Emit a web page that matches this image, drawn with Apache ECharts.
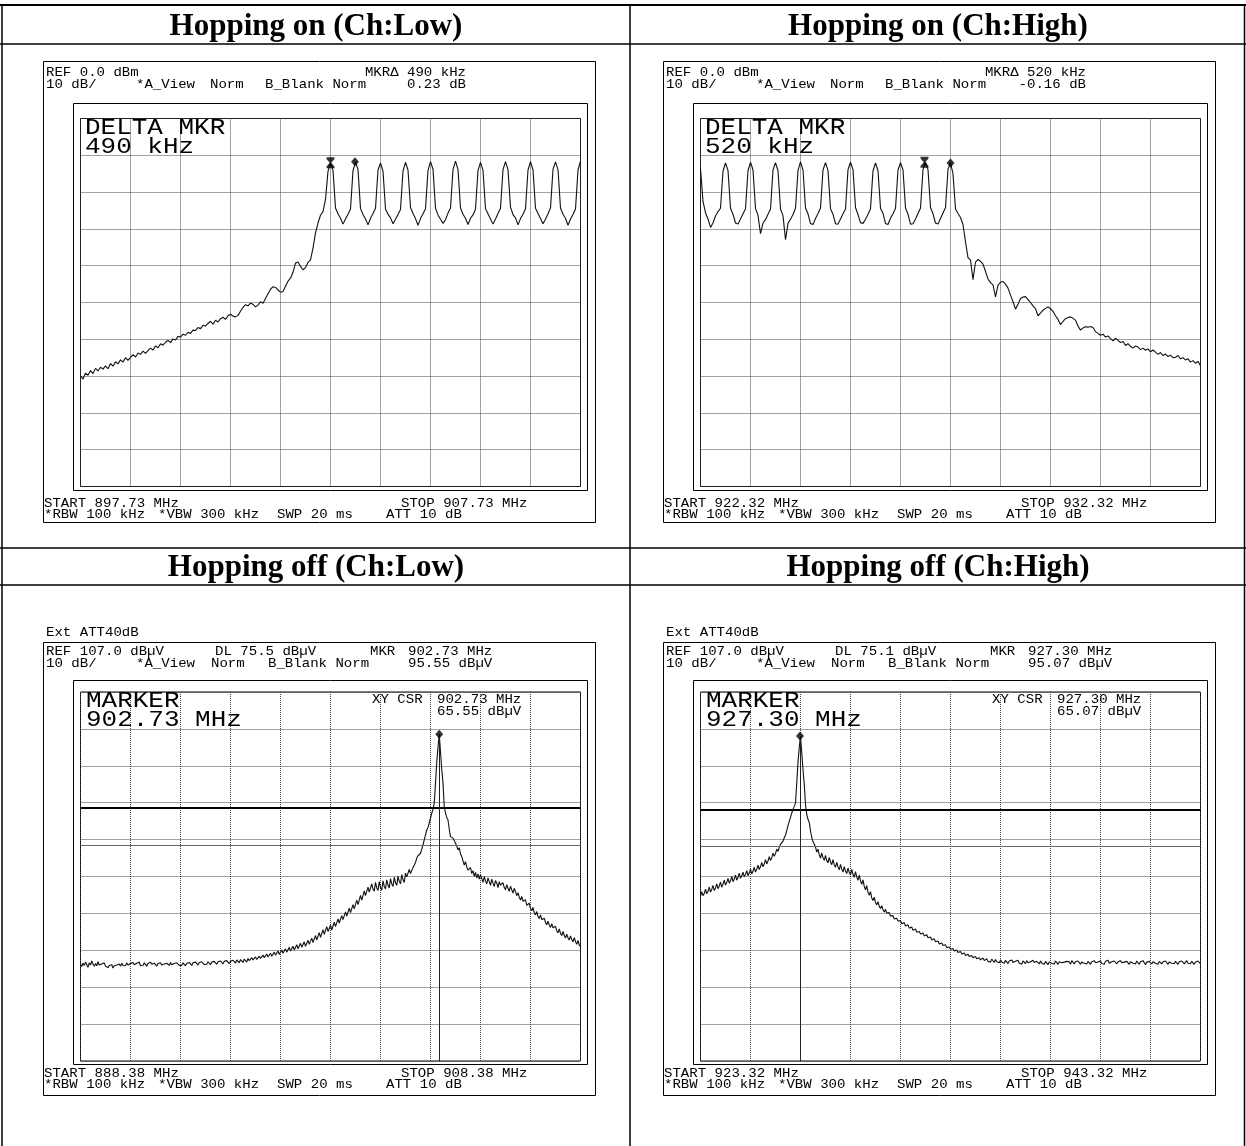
<!DOCTYPE html>
<html>
<head>
<meta charset="utf-8">
<title>Hopping channel spectra</title>
<script src="https://cdn.jsdelivr.net/npm/echarts@6.0.0/dist/echarts.min.js"></script>
<style>
html, body { margin: 0; padding: 0; background: #fff; }
#chart { width: 1246px; height: 1146px; }
</style>
</head>
<body>
<div id="chart"></div>
<script>
// ---- sweep settings of the four captures ----
const panelTitles = ['Hopping on (Ch:Low)', 'Hopping on (Ch:High)', 'Hopping off (Ch:Low)', 'Hopping off (Ch:High)'];
const startFreq = [897.73, 922.32, 888.38, 923.32];   // MHz
const mhzPerDiv = [1, 1, 2, 2];
const refLevel = [0, 0, 107, 107];                   // dBm / dBuV
const dbPerDiv = 10;

// delta markers of the hopping captures
const deltaRefMarker = [[902.73, -12.00], [926.80, -11.90]];
const deltaOffsetKHz = [490, 520];
const deltaOffsetDb = [0.23, -0.16];

// single channel captures
const markerFreq = [902.73, 927.30];
const markerLevel = [95.55, 95.07];
const displayLine = [75.5, 75.1];
const cursorLevel = [65.55, 65.07];

// ---- trace levels, one value per sweep point ----
const hopLowLevels = [
  -69.9, -70.8, -69.2, -69.8, -68.5, -69.3, -67.9, -68.6, -67.6, -68.1, -67.2, -68.0, -66.6, -67.3, -66.1, -66.7, -65.6, -66.2, -65.0, -65.7,
  -64.9, -64.2, -64.8, -63.7, -64.1, -63.2, -63.8, -63.1, -62.4, -62.9, -61.8, -62.3, -61.2, -61.6, -60.8, -60.3, -60.9, -59.9, -60.2, -59.2,
  -59.4, -58.6, -58.9, -58.1, -58.4, -57.5, -57.6, -56.8, -57.1, -56.2, -56.4, -55.7, -55.1, -55.9, -54.8, -55.3, -54.4, -54.0, -54.6, -53.6,
  -53.2, -53.7, -53.9, -53.5, -52.4, -51.3, -50.6, -50.9, -50.2, -50.5, -51.2, -50.7, -49.8, -50.2, -48.9, -47.6, -46.4, -45.7, -45.9, -46.6,
  -47.2, -47.0, -45.6, -44.2, -43.4, -41.8, -39.3, -39.0, -40.2, -41.1, -40.5, -39.1, -38.4, -35.2, -31.1, -28.4, -26.3, -25.3, -22.0, -14.3,
  -12.0, -14.1, -24.3, -25.9, -27.1, -28.7, -27.3, -26.0, -24.6, -14.2,
  -11.8, -13.9, -24.5, -26.1, -27.3, -28.9, -27.1, -25.8, -24.4, -14.0,
  -12.1, -14.3, -24.6, -26.0, -27.0, -28.6, -27.4, -26.1, -24.7, -14.3,
  -11.9, -14.0, -24.2, -25.8, -27.2, -29.0, -27.2, -25.9, -24.5, -14.1,
  -11.7, -13.8, -24.4, -26.2, -27.4, -28.5, -27.5, -25.7, -24.3, -13.9,
  -11.6, -13.9, -24.3, -26.0, -27.1, -28.8, -27.1, -26.2, -24.6, -14.1,
  -11.9, -14.1, -24.5, -25.9, -27.3, -28.7, -27.3, -25.8, -24.4, -13.9,
  -11.7, -13.9, -24.1, -26.1, -27.0, -28.9, -27.2, -26.0, -24.5, -14.0,
  -11.7, -14.0, -24.4, -25.8, -27.2, -28.6, -27.4, -25.9, -24.3, -13.8,
  -11.8, -13.9, -24.3, -26.0, -27.1, -29.0, -27.3, -26.1, -24.6, -14.0,
  -11.6
];

const hopHighLevels = [
  -13.6, -22.5, -25.6, -27.3, -29.6, -28.4, -26.5, -25.3, -24.4, -14.3,
  -12.1, -14.1, -24.4, -26.0, -28.4, -28.7, -27.3, -25.9, -24.5, -14.2,
  -11.9, -14.0, -24.5, -26.3, -31.3, -28.4, -27.5, -26.0, -24.6, -14.0,
  -12.0, -14.2, -24.6, -26.4, -32.9, -28.5, -27.4, -26.1, -24.4, -14.1,
  -11.8, -14.0, -24.3, -25.9, -28.5, -28.8, -27.2, -25.8, -24.3, -14.0,
  -12.0, -14.1, -24.5, -26.0, -28.6, -28.7, -27.3, -25.9, -24.6, -13.9,
  -11.9, -13.9, -24.2, -26.1, -28.3, -28.5, -27.4, -26.0, -24.5, -14.2,
  -12.1, -14.2, -24.4, -25.8, -28.5, -28.8, -27.1, -25.9, -24.4, -14.0,
  -12.0, -14.0, -24.3, -26.0, -28.7, -28.6, -27.3, -25.8, -24.3, -13.9,
  -11.9, -13.9, -24.2, -25.9, -28.4, -28.7, -27.2, -25.7, -24.2, -13.8,
  -12.1, -15.0, -24.6, -25.8, -26.9, -28.8, -33.5, -37.8, -38.5, -43.8, -39.0, -38.3, -38.8, -39.6, -41.5, -43.6, -44.6, -45.2, -48.5, -45.3,
  -44.5, -44.3, -45.0, -46.1, -48.0, -49.8, -51.8, -50.5, -48.9, -48.5, -48.4, -49.2, -50.0, -50.9, -51.7, -53.6, -52.9, -52.1, -51.6, -51.2,
  -51.7, -52.4, -53.6, -54.6, -56.0, -55.1, -54.4, -54.1, -53.9, -54.3, -54.8, -56.4, -57.5, -56.9, -56.6, -56.7, -56.5, -56.8, -57.9, -58.4,
  -58.9, -58.6, -59.4, -59.1, -59.8, -60.4, -59.7, -60.3, -60.9, -60.6, -61.7, -61.2, -61.9, -62.4, -61.8, -62.1, -62.8, -62.4, -63.0, -62.6,
  -63.4, -62.9, -63.5, -64.1, -63.6, -64.4, -64.0, -64.7, -64.3, -65.0, -64.9, -64.4, -65.3, -65.0, -65.6, -65.3, -66.2, -65.8, -66.5, -66.0,
  -67.2
];

const singleLowLevels = [
  33.2, 32.6, 33.5, 32.9, 33.8, 33.1, 32.4, 33.6, 33.0, 34.1, 33.3, 32.7, 33.4, 32.8, 33.9, 33.0, 32.5, 33.3, 32.9, 33.6,
  32.7, 33.2, 32.3, 32.9, 32.5, 33.1, 32.2, 32.8, 32.4, 33.0, 32.6, 33.3, 32.7, 33.5, 32.9, 33.2, 32.8, 33.6, 33.0, 32.7,
  33.4, 32.9, 33.7, 33.1, 32.6, 33.5, 33.0, 33.8, 32.8, 33.3, 32.9, 33.6, 33.1, 32.7, 33.4, 33.0, 33.8, 33.2, 32.8, 33.5,
  33.1, 32.7, 33.4, 32.9, 33.6, 33.0, 32.6, 33.3, 32.8, 33.5, 33.2, 32.9, 33.7, 33.1, 32.8, 33.4, 33.0, 33.6, 33.3, 32.9,
  33.3, 32.9, 33.6, 33.1, 32.8, 33.5, 33.0, 33.7, 33.2, 32.9, 33.6, 33.1, 33.8, 33.3, 33.0, 33.7, 33.2, 33.9, 33.4, 33.1,
  33.6, 33.2, 33.9, 33.4, 33.1, 33.8, 33.3, 34.0, 33.5, 33.2, 33.9, 33.4, 34.1, 33.6, 33.3, 34.0, 33.5, 34.2, 33.7, 33.4,
  34.0, 33.5, 34.3, 33.8, 33.5, 34.4, 33.9, 33.6, 34.5, 34.0, 33.7, 34.6, 34.1, 33.8, 34.8, 34.2, 33.9, 35.0, 34.4, 34.1,
  35.2, 34.5, 34.3, 35.4, 34.8, 34.5, 35.7, 35.0, 34.7, 36.0, 35.2, 34.9, 36.2, 35.4, 35.1, 36.5, 35.7, 35.3, 36.8, 35.9,
  35.6, 37.1, 36.2, 35.8, 37.4, 36.5, 36.1, 37.8, 36.8, 36.4, 38.1, 37.1, 36.7, 38.5, 37.4, 37.0, 38.9, 37.8, 37.3, 39.3,
  38.1, 37.7, 39.7, 38.6, 38.2, 40.3, 39.1, 38.8, 41.0, 39.8, 39.4, 41.8, 40.5, 40.2, 42.6, 41.3, 41.0, 43.4, 42.1, 41.8,
  43.8, 42.5, 42.2, 44.6, 43.4, 43.1, 45.5, 44.4, 44.0, 46.4, 45.3, 45.0, 47.4, 46.3, 45.9, 48.4, 47.2, 46.9, 49.4, 48.2,
  47.9, 50.6, 49.4, 49.0, 51.9, 50.6, 50.2, 53.1, 51.8, 51.4, 54.1, 52.8, 52.3, 55.0, 53.6, 53.0, 55.4, 53.9, 53.2, 55.6,
  54.0, 53.3, 55.8, 54.3, 53.6, 56.1, 54.6, 53.9, 56.4, 55.0, 54.3, 56.8, 55.3, 54.6, 57.1, 55.7, 55.0, 57.5, 56.1, 55.4,
  57.9, 56.9, 57.4, 58.9, 57.8, 58.6, 59.4, 59.9, 60.8, 62.0, 62.6, 62.1, 63.3, 64.4, 65.6, 66.9, 68.3, 69.6, 70.3, 71.5,
  72.8, 74.1, 75.2, 76.9, 82.3, 88.0, 92.0, 95.55, 90.8, 86.0, 82.3, 75.9, 74.2, 73.0, 72.3, 69.8, 67.8, 68.3, 67.4, 66.9,
  66.0, 65.2, 64.2, 64.8, 63.1, 62.4, 62.9, 60.1, 61.0, 59.6, 58.7, 58.3, 59.4, 57.8, 58.6, 57.0, 58.1, 56.6, 57.7, 56.3,
  57.5, 56.5, 55.4, 57.0, 55.8, 55.0, 56.6, 55.6, 54.6, 56.3, 55.2, 54.3, 55.9, 55.2, 54.0, 55.6, 54.7, 54.3, 55.3, 54.0,
  53.4, 54.8, 53.8, 53.0, 54.4, 53.4, 52.5, 53.8, 52.9, 51.8, 52.6, 51.4, 50.6, 51.6, 50.3, 49.8, 50.7, 49.2, 48.9, 49.8,
  48.3, 47.7, 48.6, 47.2, 46.6, 47.5, 46.2, 45.6, 46.6, 45.3, 44.8, 45.7, 44.5, 43.9, 44.9, 43.8, 43.2, 44.2, 43.1, 42.6,
  43.5, 42.3, 41.7, 42.8, 41.6, 41.0, 42.1, 41.0, 40.3, 41.4, 40.4, 39.8, 40.9, 39.9, 39.3, 40.4, 39.4, 38.6, 39.7, 38.4,
  38.0
];

const singleHighLevels = [
  51.6, 52.9, 51.8, 52.4, 53.6, 52.3, 53.0, 54.1, 52.8, 53.5, 54.6, 53.2, 53.9, 55.0, 53.7, 54.4, 55.5, 54.1, 54.9, 56.0,
  54.7, 55.4, 56.5, 55.2, 55.9, 57.0, 55.6, 56.3, 57.4, 56.0, 56.8, 57.9, 56.5, 57.2, 58.2, 56.9, 57.6, 58.6, 57.2, 58.0,
  59.0, 57.7, 58.5, 59.5, 58.2, 59.0, 60.1, 58.9, 59.7, 60.8, 59.6, 60.4, 61.6, 60.4, 61.2, 62.4, 61.3, 62.1, 63.3, 62.5,
  63.2, 64.4, 63.8, 64.9, 65.7, 65.4, 66.6, 67.5, 68.2, 69.4, 70.8, 72.0, 73.0, 74.2, 75.2, 76.0, 76.9, 82.3, 88.0, 92.0,
  95.07, 90.6, 86.0, 82.0, 76.5, 73.8, 72.5, 71.6, 69.4, 67.6, 66.4, 65.8, 65.0, 63.6, 64.4, 62.9, 62.0, 63.4, 62.1, 61.4,
  62.7, 61.3, 60.7, 62.2, 60.9, 60.2, 61.6, 60.2, 59.5, 60.9, 59.6, 58.8, 60.3, 59.0, 58.2, 59.7, 58.5, 57.8, 59.3, 58.1,
  57.4, 58.9, 57.6, 56.8, 58.3, 56.9, 56.0, 57.4, 55.8, 54.9, 56.1, 54.3, 53.4, 54.5, 52.7, 51.9, 52.9, 51.2, 50.5, 51.4,
  49.9, 49.3, 50.2, 48.9, 48.3, 49.1, 48.0, 47.4, 48.1, 47.1, 46.6, 47.2, 46.3, 45.8, 46.4, 45.5, 45.1, 45.7, 44.9, 44.5,
  45.1, 44.2, 43.9, 44.5, 43.6, 43.3, 43.9, 43.0, 42.8, 43.3, 42.4, 42.2, 42.8, 41.9, 41.6, 42.1, 41.4, 41.1, 41.7, 40.9,
  40.7, 41.2, 40.4, 40.1, 40.6, 39.8, 39.6, 40.1, 39.3, 39.0, 39.5, 38.7, 38.5, 39.0, 38.3, 38.0, 38.5, 37.7, 37.5, 37.9,
  37.3, 37.0, 37.5, 36.8, 36.6, 37.1, 36.4, 36.2, 36.7, 36.0, 35.8, 36.3, 35.6, 35.5, 35.9, 35.3, 35.1, 35.6, 35.0, 34.8,
  35.3, 34.7, 34.5, 35.0, 34.4, 34.3, 34.9, 34.2, 34.1, 34.7, 34.0, 34.4, 33.8, 34.6, 34.1, 33.7, 34.5, 33.9, 34.2, 33.6,
  34.4, 33.8, 34.2, 33.5, 34.3, 33.9, 33.4, 34.1, 33.6, 34.4, 33.7, 33.3, 34.0, 33.6, 34.3, 33.5, 33.9, 33.2, 34.1, 33.7,
  33.4, 34.2, 33.6, 33.1, 33.9, 33.5, 34.3, 33.7, 33.2, 34.0, 33.6, 33.3, 34.1, 33.5, 33.9, 33.2, 34.0, 33.6, 33.1, 33.8,
  34.2, 33.5, 33.9, 33.3, 34.1, 33.7, 33.2, 33.9, 34.3, 33.6, 33.1, 33.8, 33.4, 34.0, 33.5, 33.9, 33.2, 34.2, 33.7, 33.3,
  33.9, 33.4, 34.1, 33.6, 33.2, 33.8, 34.3, 33.5, 33.9, 33.3, 34.0, 33.7, 33.2, 33.9, 33.4, 34.2, 33.6, 33.1, 33.8, 33.5,
  34.1, 33.4, 33.8, 33.2, 34.0, 33.6, 34.3, 33.5, 33.1, 33.9, 33.4, 34.1, 33.7, 33.3, 33.9, 33.5, 34.2, 33.6, 33.2, 33.8,
  33.4, 34.0, 33.7, 33.2, 33.9, 34.3, 33.5, 33.8, 33.3, 34.1, 33.6, 33.2, 33.9, 33.5, 34.2, 33.7, 33.1, 33.8, 33.4, 34.0,
  33.6, 33.3, 33.9, 34.2, 33.5, 33.8, 33.2, 34.0, 33.7, 33.3, 33.9, 33.4, 34.1, 33.6, 33.2, 33.8, 34.3, 33.5, 33.9, 33.4,
  34.0, 33.6, 33.2, 33.9, 33.5, 34.1, 33.7, 33.3, 33.8, 34.2, 33.5, 33.9, 33.4, 34.0, 33.6, 33.2, 33.8, 33.5, 34.1, 33.6,
  33.3
];

// ---- page layout ----
const traces = [hopLowLevels, hopHighLevels, singleLowLevels, singleHighLevels];
const gratLeft = [80.5, 700.5, 80.5, 700.5];
const gratTop = [118.5, 118.5, 692, 692];
const gratWidth = 500;
const gratHeight = [368, 368, 369, 369];

const MONO = '"Liberation Mono", "DejaVu Sans Mono", monospace';
const SERIF = '"Liberation Serif", "Times New Roman", serif';
const HOURGLASS = 'path://M0,0H10V1.6L5.9,5L10,8.4V10H0V8.4L4.1,5L0,1.6Z';

const graphics = [];

function rule(x1, y1, x2, y2, w) {
  graphics.push({ type: 'line', silent: true, z: 20, shape: { x1: x1, y1: y1, x2: x2, y2: y2 },
    style: { stroke: '#000', lineWidth: w } });
}
function box(x, y, w, h) {
  graphics.push({ type: 'rect', silent: true, z: 20, shape: { x: x, y: y, width: w, height: h },
    style: { fill: 'none', stroke: '#000', lineWidth: 1 } });
}
function label(text, x, y, size, sx, align) {
  graphics.push({ type: 'text', silent: true, z: 30, x: x, y: y, scaleX: sx,
    style: { text: text, x: 0, y: 0, fontSize: size, fontFamily: MONO, fill: '#000',
      textAlign: align || 'left', align: align || 'left', textVerticalAlign: 'middle', verticalAlign: 'middle' } });
}
function small(text, x, y, align) { label(text, x, y, 13, 1.08, align); }
function big(text, x, y) { label(text, x, y, 22, 1.18, 'left'); }

// table rules
rule(0, 5, 1246, 5, 2);
rule(2, 4, 2, 1146, 1.5);
rule(1244.5, 4, 1244.5, 1146, 1.5);
rule(630, 4, 630, 1146, 1.5);
rule(0, 44, 1246, 44, 1.5);
rule(0, 548, 1246, 548, 1.5);
rule(0, 585, 1246, 585, 1.5);

panelTitles.forEach(function (t, k) {
  graphics.push({ type: 'text', silent: true, z: 30,
    style: { text: t, x: k % 2 ? 938 : 316, y: k < 2 ? 27 : 568, fontSize: 31, fontWeight: 'bold', fontFamily: SERIF,
      fill: '#000', textAlign: 'center', align: 'center', textVerticalAlign: 'middle', verticalAlign: 'middle' } });
});

// analyzer screen annotations
for (let k = 0; k < 4; k++) {
  const dx = (k % 2) * 620;
  const stop = startFreq[k] + 10 * mhzPerDiv[k];
  if (k < 2) {
    box(43.5 + dx, 61.5, 552, 461);
    box(73.5 + dx, 103.5, 514, 387);
    small('REF ' + refLevel[k].toFixed(1) + ' dBm', 46 + dx, 73);
    small('MKR\u0394 ' + deltaOffsetKHz[k] + ' kHz', 466 + dx, 73, 'right');
    small('10 dB/', 46 + dx, 84.5);
    small('*A_View', 136 + dx, 84.5);
    small('Norm', 210 + dx, 84.5);
    small('B_Blank Norm', 265 + dx, 84.5);
    small(deltaOffsetDb[k].toFixed(2) + ' dB', 466 + dx, 84.5, 'right');
    big('DELTA MKR', 85 + dx, 128);
    big(deltaOffsetKHz[k] + ' kHz', 85 + dx, 147);
    small('START ' + startFreq[k].toFixed(2) + ' MHz', 44 + dx, 503.5);
    small('STOP ' + stop.toFixed(2) + ' MHz', 401 + dx, 503.5);
    small('*RBW 100 kHz', 44 + dx, 514.5);
    small('*VBW 300 kHz', 158 + dx, 514.5);
    small('SWP 20 ms', 277 + dx, 514.5);
    small('ATT 10 dB', 386 + dx, 514.5);
  } else {
    const j = k - 2;
    box(43.5 + dx, 642.5, 552, 453);
    box(73.5 + dx, 680.5, 514, 384);
    small('Ext ATT40dB', 46 + dx, 633);
    small('REF ' + refLevel[k].toFixed(1) + ' dB\u00b5V', 46 + dx, 652);
    small('DL ' + displayLine[j].toFixed(1) + ' dB\u00b5V', 215 + dx, 652);
    small('MKR', 370 + dx, 652);
    small(markerFreq[j].toFixed(2) + ' MHz', 408 + dx, 652);
    small('10 dB/', 46 + dx, 663.5);
    small('*A_View', 136 + dx, 663.5);
    small('Norm', 211 + dx, 663.5);
    small('B_Blank Norm', 268 + dx, 663.5);
    small(markerLevel[j].toFixed(2) + ' dB\u00b5V', 408 + dx, 663.5);
    big('MARKER', 86 + dx, 701);
    big(markerFreq[j].toFixed(2) + ' MHz', 86 + dx, 720);
    small('XY CSR', 372 + dx, 700);
    small(markerFreq[j].toFixed(2) + ' MHz', 437 + dx, 700);
    small(cursorLevel[j].toFixed(2) + ' dB\u00b5V', 437 + dx, 711.5);
    small('START ' + startFreq[k].toFixed(2) + ' MHz', 44 + dx, 1074);
    small('STOP ' + stop.toFixed(2) + ' MHz', 401 + dx, 1074);
    small('*RBW 100 kHz', 44 + dx, 1085);
    small('*VBW 300 kHz', 158 + dx, 1085);
    small('SWP 20 ms', 277 + dx, 1085);
    small('ATT 10 dB', 386 + dx, 1085);
  }
}

// ---- grids, axes and series ----
const grids = [], xAxes = [], yAxes = [], series = [];
const gridLine = { show: true, lineStyle: { color: '#444', width: 1, type: [1, 1] } };

for (let k = 0; k < 4; k++) {
  grids.push({ left: gratLeft[k], top: gratTop[k], width: gratWidth, height: gratHeight[k],
    show: true, borderColor: '#000', borderWidth: 1, backgroundColor: 'transparent',
    containLabel: false, outerBoundsMode: 'none' });
  xAxes.push({ type: 'value', gridIndex: k, min: startFreq[k], max: startFreq[k] + 10 * mhzPerDiv[k],
    interval: mhzPerDiv[k], axisLine: { show: false }, axisTick: { show: false },
    axisLabel: { show: false }, splitLine: gridLine });
  yAxes.push({ type: 'value', gridIndex: k, min: refLevel[k] - 10 * dbPerDiv, max: refLevel[k],
    interval: dbPerDiv, axisLine: { show: false }, axisTick: { show: false },
    axisLabel: { show: false }, splitLine: gridLine });

  const levels = traces[k];
  const step = 10 * mhzPerDiv[k] / (levels.length - 1);
  const trace = {
    type: 'line', xAxisIndex: k, yAxisIndex: k, silent: true, z: 3, clip: true,
    showSymbol: false, symbol: 'none',
    lineStyle: { color: '#111', width: 1.1 },
    data: levels.map(function (v, i) { return [startFreq[k] + i * step, v]; })
  };

  if (k < 2) {
    const ref = deltaRefMarker[k];
    const delta = [ref[0] + deltaOffsetKHz[k] / 1000, ref[1] + deltaOffsetDb[k]];
    series.push(trace);
    series.push({ type: 'scatter', xAxisIndex: k, yAxisIndex: k, silent: true, z: 5,
      itemStyle: { color: '#000' },
      data: [
        { value: ref, symbol: HOURGLASS, symbolSize: [8, 11] },
        { value: delta, symbol: 'diamond', symbolSize: [8, 9] }
      ] });
  } else {
    const j = k - 2;
    trace.markLine = {
      silent: true, symbol: ['none', 'none'], label: { show: false }, animation: false,
      data: [
        { yAxis: displayLine[j], lineStyle: { color: '#000', width: 2, type: 'solid' } },
        { yAxis: cursorLevel[j], lineStyle: { color: '#666', width: 1.2, type: 'solid' } },
        [ { coord: [markerFreq[j], markerLevel[j]], lineStyle: { color: '#222', width: 1, type: 'solid' } },
          { coord: [markerFreq[j], refLevel[k] - 10 * dbPerDiv] } ]
      ]
    };
    series.push(trace);
    series.push({ type: 'scatter', xAxisIndex: k, yAxisIndex: k, silent: true, z: 5,
      itemStyle: { color: '#000' },
      data: [ { value: [markerFreq[j], markerLevel[j]], symbol: 'diamond', symbolSize: [8, 9] } ] });
  }
}

const chart = echarts.init(document.getElementById('chart'), null, { renderer: 'canvas' });
chart.setOption({
  animation: false,
  backgroundColor: '#fff',
  grid: grids,
  xAxis: xAxes,
  yAxis: yAxes,
  series: series,
  graphic: { elements: graphics }
});
</script>
</body>
</html>
